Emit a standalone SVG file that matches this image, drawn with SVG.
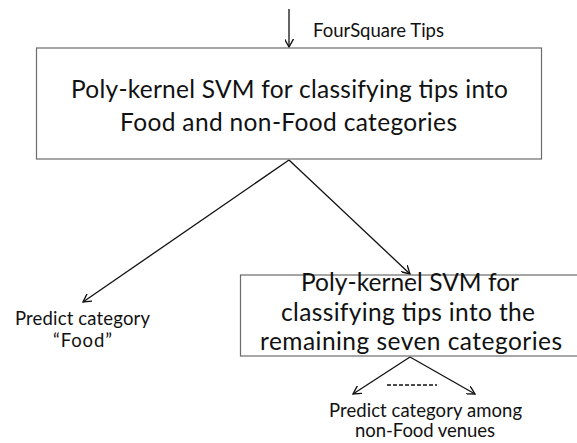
<svg xmlns="http://www.w3.org/2000/svg" width="577" height="443" viewBox="0 0 577 443">
<defs>
<style>
.box{fill:#fff;stroke:#6b6b6b;stroke-width:1.2}
.t{font-family:Lato,"Open Sans","Liberation Sans",sans-serif;fill:#111;text-anchor:middle}
.big{font-size:24.5px}
.sm{font-size:18.5px}
.ln{stroke:#111;stroke-width:1.3;fill:none;marker-end:url(#ah)}
</style>
<marker id="ah" viewBox="0 0 10 10" refX="9" refY="5" markerWidth="9" markerHeight="9" markerUnits="userSpaceOnUse" orient="auto">
<path d="M0,0 L9,5 L0,10" fill="none" stroke="#111" stroke-width="1.5"/>
</marker>
</defs>
<g id="connectors">
<line class="ln" x1="289" y1="9" x2="289" y2="47"/>
<line class="ln" x1="289" y1="160" x2="83" y2="302"/>
<line class="ln" x1="289" y1="160" x2="410" y2="274"/>
<line class="ln" x1="410" y1="357" x2="353" y2="394"/>
<line class="ln" x1="410" y1="357" x2="475" y2="394"/>
<line x1="387" y1="385" x2="437" y2="385" stroke="#111" stroke-width="1.3" stroke-dasharray="4,2"/>
</g>
<g id="input-label">
<text class="t sm" x="378.5" y="37" textLength="131" lengthAdjust="spacing">FourSquare Tips</text>
</g>
<g id="svm1">
<rect class="box" x="36.5" y="48" width="505" height="111"/>
<text class="t big" x="289.5" y="98" textLength="437" lengthAdjust="spacing">Poly-kernel SVM for classifying tips into</text>
<text class="t big" x="288.5" y="131" textLength="337" lengthAdjust="spacing">Food and non-Food categories</text>
</g>
<g id="food">
<text class="t sm" x="82.5" y="325" textLength="135" lengthAdjust="spacing">Predict category</text>
<text class="t sm" x="82.5" y="347" textLength="59" lengthAdjust="spacing">“Food”</text>
</g>
<g id="svm2">
<rect class="box" x="240.5" y="275" width="342" height="81"/>
<text class="t big" x="410" y="291" textLength="218" lengthAdjust="spacing">Poly-kernel SVM for</text>
<text class="t big" x="408" y="321" textLength="254" lengthAdjust="spacing">classifying tips into the</text>
<text class="t big" x="411" y="350" textLength="302" lengthAdjust="spacing">remaining seven categories</text>
</g>
<g id="nonfood">
<text class="t sm" x="425.5" y="417" textLength="193" lengthAdjust="spacing">Predict category among</text>
<text class="t sm" x="425" y="437" textLength="140" lengthAdjust="spacing">non-Food venues</text>
</g>
</svg>
